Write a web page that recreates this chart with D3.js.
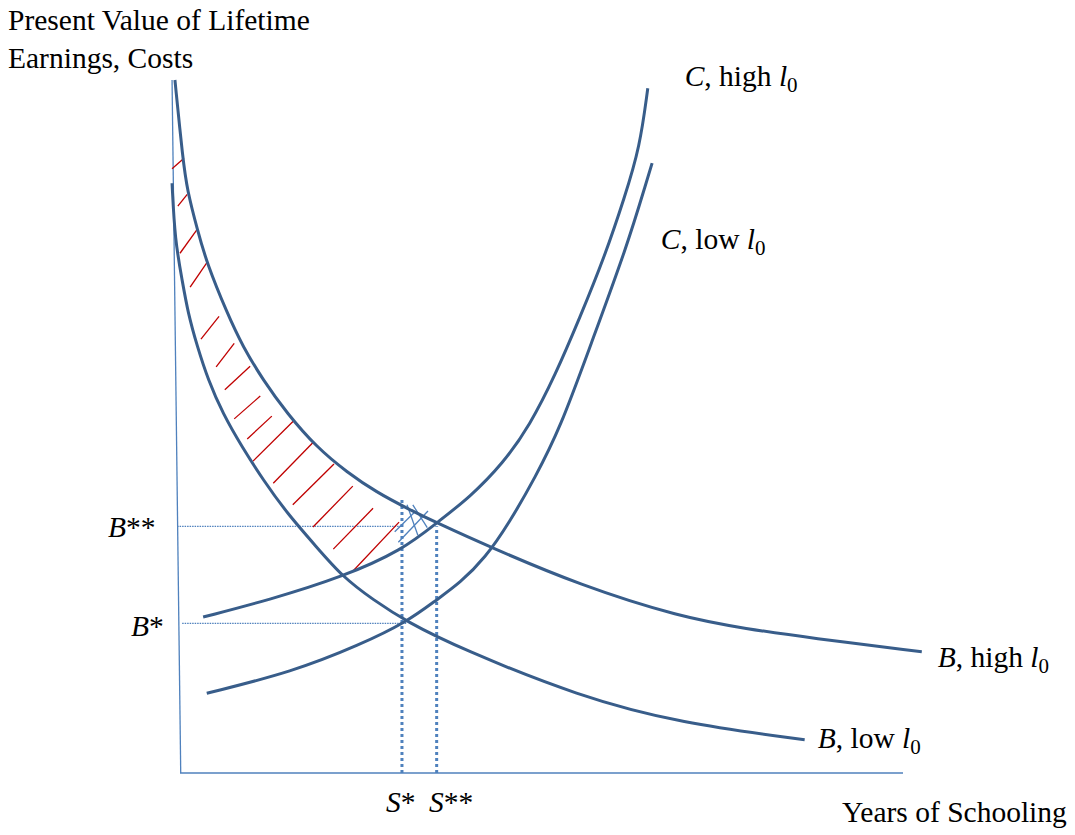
<!DOCTYPE html>
<html>
<head>
<meta charset="utf-8">
<script src="https://cdn.jsdelivr.net/npm/d3@7"></script>
<style>
  body { margin: 0; background: #fff; }
  text { font-family: "Liberation Serif", "Times New Roman", serif; fill: #000; }
</style>
</head>
<body>
<div id="chart"></div>
<script>
// curves, in chart units (x: schooling 0-100, y: present value 0-100)
const bHigh = [[-0.7,100],[0.4,88.5],[1.0,84.1],[2.4,78.4],[3.7,73.6],[6.5,66.4],[8.7,61.5],[11.5,56.7],[14.8,51.9],[18.9,47.0],[23.1,43.4],[27.2,40.5],[31.4,38.2],[35.5,36.1],[42.9,32.6],[55.3,27.1],[69.2,22.5],[78.4,20.8],[87.1,19.5],[102.6,17.5]];
const bLow = [[-1.1,85.1],[-0.7,76.9],[0.3,71.1],[1.1,66.4],[2.4,61.5],[3.9,56.7],[5.9,51.9],[8.6,47.0],[11.5,42.3],[14.8,37.5],[18.9,32.6],[22.5,28.3],[26.7,25.0],[31.4,21.8],[38.7,18.0],[55.3,11.0],[69.2,7.2],[86.4,4.8]];
const cHigh = [[3.2,22.5],[12.4,25.0],[22.5,28.3],[30.8,32.2],[35.5,36.1],[40.1,39.8],[44.7,44.7],[48.4,50.2],[51.9,57.4],[55.3,65.7],[58.8,74.7],[61.5,83.1],[63.6,90.3],[64.7,98.8]];
const cLow = [[3.7,11.5],[15.6,14.6],[24.9,18.5],[31.4,21.8],[35.5,25.0],[38.7,27.4],[42.2,31.0],[45.6,36.2],[49.1,42.6],[52.6,49.8],[56.7,61.5],[61.8,75.9],[64.6,85.6],[65.3,88.0]];

// hatching segments [x1, y1, x2, y2]
const redHatch = [
  [-1.1,87.2,0.55,88.7],[-0.3,81.8,1.0,83.5],[0,75.0,2.35,78.4],[1.4,70.1,3.7,73.6],
  [2.9,62.6,5.4,65.9],[5.0,58.6,7.5,62.0],[6.2,55.3,9.7,58.7],[7.5,51.1,11.1,54.4],
  [9.3,48.2,12.7,51.5],[10.1,45.0,15.8,50.9],[12.9,41.8,18.5,47.8],[15.6,38.7,21.3,44.6],
  [18.4,35.5,23.9,41.4],[21.2,32.3,26.7,38.2],[23.8,29.0,30.3,36.2]
];
const blueHatch = [
  [29.7,34.8,32.5,37.7],[30.2,33.3,34.3,37.8],[31.4,38.7,32.9,34.3],[32.2,38.7,34.2,35.4]
];

// equilibrium levels
const bStar = 21.6, bStar2 = 35.6;
const sStar = 30.7, sStar2 = 35.5;

const curveLabels = [
  {x: 69.8, y: 99.2, name: "C", level: "high"},
  {x: 66.5, y: 75.6, name: "C", level: "low"},
  {x: 104.8, y: 15.3, name: "B", level: "high"},
  {x: 88.2, y: 3.6, name: "B", level: "low"}
];

function draw() {
  const width = 1075, height = 835;
  const navy = "#385d8a", light = "#4f81bd";
  const fontSize = "29.5px";

  const svg = d3.select("#chart").append("svg")
    .attr("width", width)
    .attr("height", height);

  const x = d3.scaleLinear().domain([0, 100]).range([180, 903]);
  const y = d3.scaleLinear().domain([0, 100]).range([773, 80]);

  // axes (vertical one leans slightly, as drawn)
  svg.append("line")
    .attr("x1", x(-1.1)).attr("y1", y(100))
    .attr("x2", x(0.1)).attr("y2", y(0))
    .attr("stroke", light).attr("stroke-width", 1.3);
  svg.append("line")
    .attr("x1", x(0)).attr("y1", y(0))
    .attr("x2", x(100)).attr("y2", y(0))
    .attr("stroke", light).attr("stroke-width", 1.3);

  // thin dotted B lines
  [[bStar2, -0.4, sStar], [bStar, 0.3, 31.4]].forEach(d => {
    svg.append("line")
      .attr("x1", x(d[1])).attr("y1", y(d[0]))
      .attr("x2", x(d[2])).attr("y2", y(d[0]))
      .attr("stroke", light).attr("stroke-width", 1.2)
      .attr("stroke-dasharray", "1.5,1");
  });

  // heavy dotted S lines
  [[sStar, 39.4], [sStar2, bStar2]].forEach(d => {
    svg.append("line")
      .attr("x1", x(d[0])).attr("y1", y(0))
      .attr("x2", x(d[0])).attr("y2", y(d[1]))
      .attr("stroke", light).attr("stroke-width", 3)
      .attr("stroke-dasharray", "3,3");
  });

  svg.selectAll(".red")
    .data(redHatch)
    .enter().append("line")
    .attr("x1", d => x(d[0])).attr("y1", d => y(d[1]))
    .attr("x2", d => x(d[2])).attr("y2", d => y(d[3]))
    .attr("stroke", "#c00000").attr("stroke-width", 1.3);

  svg.selectAll(".blue")
    .data(blueHatch)
    .enter().append("line")
    .attr("x1", d => x(d[0])).attr("y1", d => y(d[1]))
    .attr("x2", d => x(d[2])).attr("y2", d => y(d[3]))
    .attr("stroke", light).attr("stroke-width", 1.3);

  const line = d3.line()
    .x(d => x(d[0]))
    .y(d => y(d[1]))
    .curve(d3.curveBasis);

  svg.selectAll(".curve")
    .data([bHigh, bLow, cHigh, cLow])
    .enter().append("path")
    .attr("d", line)
    .attr("fill", "none")
    .attr("stroke", navy)
    .attr("stroke-width", 3);

  // curve labels: "C, high l0"
  curveLabels.forEach(d => {
    const t = svg.append("text")
      .attr("x", x(d.x)).attr("y", y(d.y))
      .style("font-size", fontSize);
    t.append("tspan").style("font-style", "italic").text(d.name);
    t.append("tspan").text(", " + d.level + " ");
    t.append("tspan").style("font-style", "italic").text("l");
    t.append("tspan").attr("dy", 6).style("font-size", "21px").text("0");
  });

  // axis titles
  svg.append("text").attr("x", 8).attr("y", 30).style("font-size", fontSize)
    .text("Present Value of Lifetime");
  svg.append("text").attr("x", 8).attr("y", 68).style("font-size", fontSize)
    .text("Earnings, Costs");
  svg.append("text").attr("x", 842).attr("y", 822).style("font-size", fontSize)
    .text("Years of Schooling");

  // level labels
  const lev = [
    {t: "B", s: "**", px: 108, py: y(bStar2) + 11},
    {t: "B", s: "*", px: 131, py: y(bStar) + 13},
    {t: "S", s: "*", px: 386, py: 812},
    {t: "S", s: "**", px: 429, py: 812}
  ];
  lev.forEach(d => {
    const t = svg.append("text").attr("x", d.px).attr("y", d.py)
      .style("font-size", fontSize);
    t.append("tspan").style("font-style", "italic").text(d.t);
    t.append("tspan").text(d.s);
  });
}

window.onload = function () {
  draw();
};
</script>
</body>
</html>
